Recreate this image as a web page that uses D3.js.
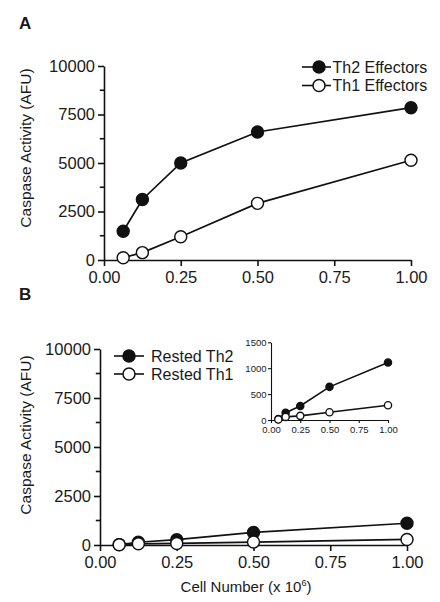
<!DOCTYPE html>
<html><head><meta charset="utf-8">
<script src="https://cdn.jsdelivr.net/npm/d3@7"></script>
<style>
body{margin:0;background:#fff;}
svg{display:block;font-family:"Liberation Sans",Arial,Helvetica,sans-serif;}
text{fill:#1a1a1a;}
</style></head><body>
<svg id="c" width="440" height="602"></svg>
<script>
// ---- data ----
const cellNumber = [0.0625, 0.125, 0.25, 0.5, 1.0];
const th2Effectors = [1480, 3120, 5000, 6600, 7850];
const th1Effectors = [120, 380, 1200, 2920, 5140];
const restedTh2 = [20, 140, 270, 640, 1110];
const restedTh1 = [10, 60, 80, 150, 285];
const xTicks = [0, 0.25, 0.5, 0.75, 1.0];
const yTicksMain = [0, 2500, 5000, 7500, 10000];
const yMinorMain = [1250, 3750, 6250, 8750];
const yTicksInset = [0, 500, 1000, 1500];
const legendA = ["Th2 Effectors", "Th1 Effectors"];
const legendB = ["Rested Th2", "Rested Th1"];

const svg = d3.select("#c");
const fmtX = d3.format(".2f");

function panel(cfg){
  const g = svg.append("g");
  const x = d3.scaleLinear().domain([0,1]).range([cfg.x0, cfg.x1]);
  const y = d3.scaleLinear().domain([0, cfg.ymax]).range([cfg.y0, cfg.y1]);
  const fs = cfg.fs, tl = cfg.tl, sw = cfg.sw;
  const xa = g.append("g").attr("transform", `translate(0,${cfg.y0})`)
    .call(d3.axisBottom(x).tickValues(xTicks).tickFormat(fmtX).tickSizeOuter(0).tickSizeInner(tl).tickPadding(cfg.xpad));
  const ya = g.append("g").attr("transform", `translate(${cfg.x0},0)`)
    .call(d3.axisLeft(y).tickValues(cfg.yTicks).tickFormat(d3.format("d")).tickSizeOuter(0).tickSizeInner(tl).tickPadding(cfg.ypad));
  [xa, ya].forEach(a=>{
    a.select(".domain").attr("stroke","#111").attr("stroke-width",sw);
    a.selectAll(".tick line").attr("stroke","#111").attr("stroke-width",sw);
    a.selectAll(".tick text").attr("font-size",fs).attr("font-family","Liberation Sans, Arial, sans-serif").attr("fill","#1a1a1a");
  });
  if (cfg.yMinor){
    g.append("g").selectAll("line").data(cfg.yMinor).join("line")
      .attr("x1", cfg.x0 - tl*0.7).attr("x2", cfg.x0)
      .attr("y1", d=>y(d)).attr("y2", d=>y(d))
      .attr("stroke","#111").attr("stroke-width",sw);
  }
  const line = d3.line().x((d,i)=>x(cellNumber[i])).y(d=>y(d));
  cfg.series.forEach(s=>{
    g.append("path").datum(s.values).attr("d", line)
      .attr("fill","none").attr("stroke","#111").attr("stroke-width",cfg.lw);
    g.append("g").selectAll("circle").data(s.values).join("circle")
      .attr("cx",(d,i)=>x(cellNumber[i])).attr("cy",d=>y(d)).attr("r",cfg.r)
      .attr("fill", s.filled ? "#111" : "#fff").attr("stroke","#111").attr("stroke-width",cfg.lw*0.85);
  });
  return {x,y,g};
}

// Panel A
panel({x0:104, x1:411, y0:260, y1:66, ymax:10000, yTicks:yTicksMain, yMinor:yMinorMain,
  fs:16.5, tl:6, sw:1.6, lw:1.7, r:6, xpad:5.5, ypad:3,
  series:[{values:th2Effectors, filled:true},{values:th1Effectors, filled:false}]});

// Panel B (main)
panel({x0:100, x1:407, y0:545, y1:349, ymax:10000, yTicks:yTicksMain, yMinor:yMinorMain,
  fs:16.5, tl:6, sw:1.6, lw:1.7, r:6, xpad:5, ypad:3,
  series:[{values:restedTh2, filled:true},{values:restedTh1, filled:false}]});

// Inset
panel({x0:271, x1:388, y0:420, y1:342.3, ymax:1500, yTicks:yTicksInset, yMinor:null,
  fs:9.5, tl:3, sw:1.1, lw:1.6, r:3.6, xpad:3.5, ypad:1.5,
  series:[{values:restedTh2, filled:true},{values:restedTh1, filled:false}]});

// panel letters
svg.append("text").attr("x",19).attr("y",29).attr("font-size",17).attr("font-weight","bold").text("A");
svg.append("text").attr("x",19).attr("y",300).attr("font-size",17).attr("font-weight","bold").text("B");

// y axis titles
[[25,148],[25,435]].forEach(([cx,cy])=>{
  svg.append("text").attr("transform",`translate(${cx+5.5},${cy}) rotate(-90)`)
    .attr("text-anchor","middle").attr("font-size",15.5).attr("fill","#333").text("Caspase Activity (AFU)");
});

// x axis title
const xt = svg.append("text").attr("x",246).attr("y",592).attr("text-anchor","middle").attr("font-size",15).attr("fill","#333");
xt.append("tspan").text("Cell Number (x 10");
xt.append("tspan").attr("font-size",9).attr("dy",-6).text("6");
xt.append("tspan").attr("dy",6).text(")");

// legends
function legend(items, lx0, lx1, cxm, tx, ys, fs){
  items.forEach((t,i)=>{
    const yy = ys[i];
    svg.append("line").attr("x1",lx0).attr("x2",lx1).attr("y1",yy).attr("y2",yy).attr("stroke","#111").attr("stroke-width",1.6);
    svg.append("circle").attr("cx",cxm).attr("cy",yy).attr("r",6)
      .attr("fill", i===0 ? "#111" : "#fff").attr("stroke","#111").attr("stroke-width",1.5);
    svg.append("text").attr("x",tx).attr("y",yy+5.5).attr("font-size",fs).text(t);
  });
}
legend(legendA, 302, 331, 319, 332.5, [67, 85.5], 16);
legend(legendB, 114, 144, 129, 151, [356, 374], 16);
</script></body></html>
